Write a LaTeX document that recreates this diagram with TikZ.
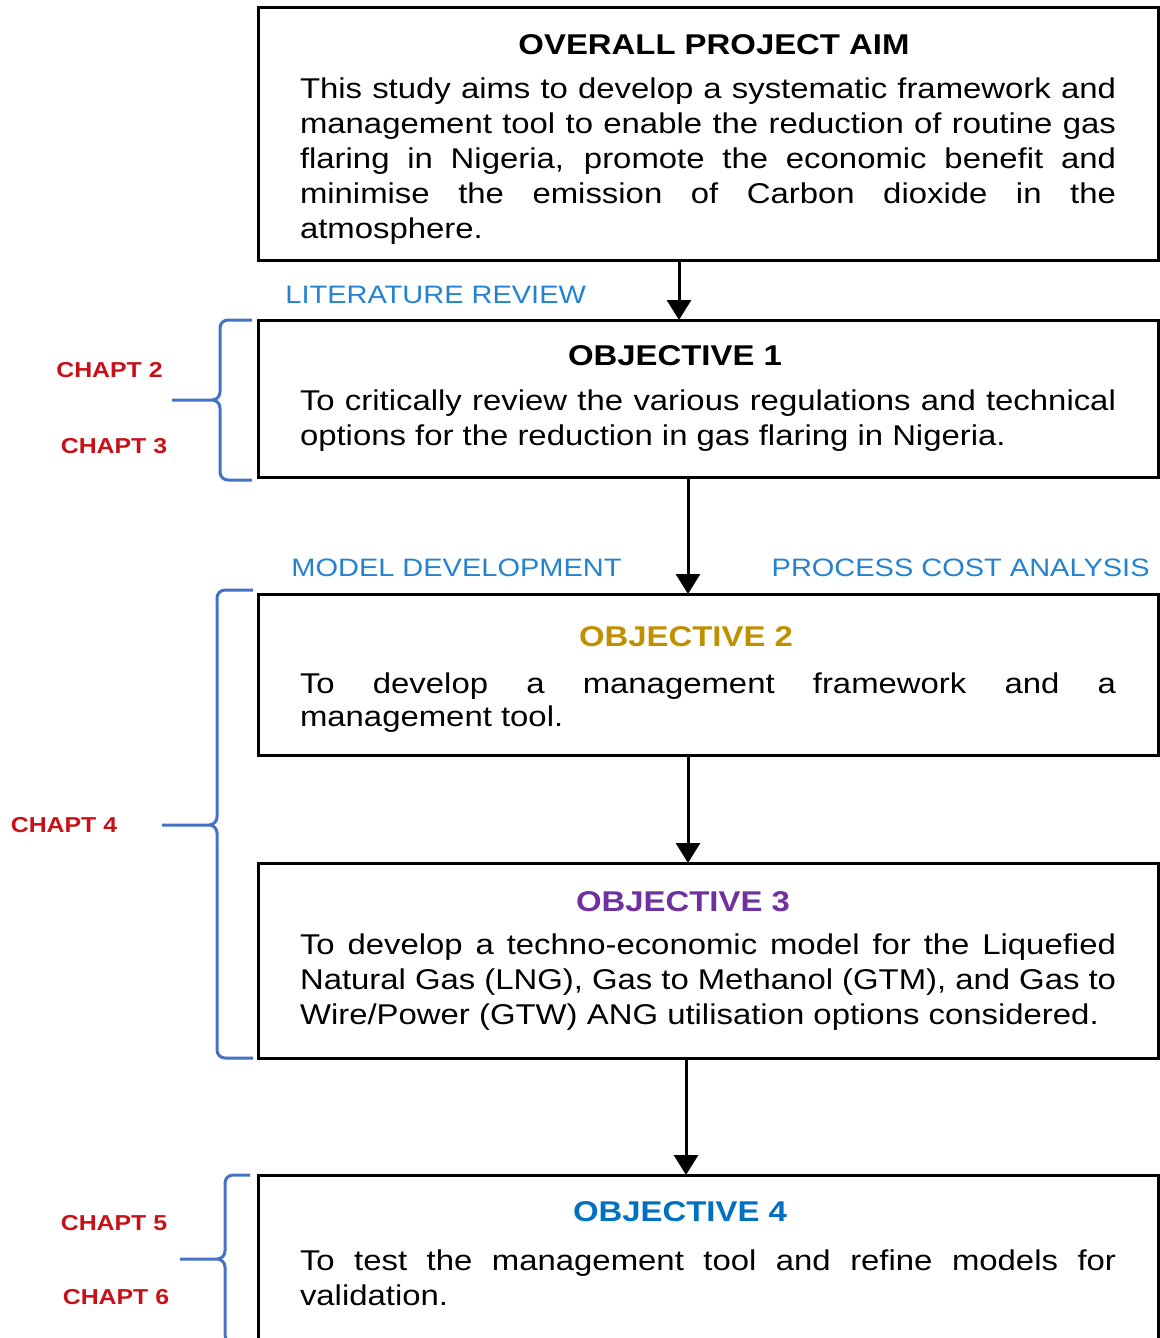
\documentclass[tikz,border=0pt]{standalone}
\usepackage{fontspec}
\setmainfont{Liberation Sans}[FakeStretch=1.15]
\usetikzlibrary{arrows.meta,positioning}
\definecolor{goldobj}{HTML}{BF9000}
\definecolor{purpleobj}{HTML}{7030A0}
\definecolor{blueobj}{HTML}{0070C0}
\definecolor{stageblue}{RGB}{36,130,208}
\definecolor{chaptred}{RGB}{200,16,24}
\definecolor{bracecol}{HTML}{4472C4}
\newcommand{\boxtitle}[4][5pt]{{\centering\bfseries\color{#2}\hspace*{#3}#4\par}\vspace{#1}}
\newcommand{\chbrace}[6]{\draw[chbr] (#5pt,-#1pt) -- (#4pt+4pt,-#1pt) to[out=180,in=90] (#4pt,-#1pt-4pt) -- (#4pt,-#2pt+4pt) to[out=-90,in=0] (#4pt-4pt,-#2pt) -- (#6pt,-#2pt) (#4pt-4pt,-#2pt) to[out=0,in=90] (#4pt,-#2pt-4pt) -- (#4pt,-#3pt+4pt) to[out=-90,in=180] (#4pt+4pt,-#3pt) -- (#5pt,-#3pt);}
\hyphenpenalty=10000
\exhyphenpenalty=10000
\begin{document}
\begin{tikzpicture}[box/.style={draw,line width=1.5pt,outer sep=0pt,text width=408pt,inner xsep=21pt,inner ysep=0pt,align=justify,font=\fontsize{14.3}{17.5}\selectfont}, stage/.style={text=stageblue,inner sep=0pt,font=\fontsize{12.6}{15}\selectfont}, chapt/.style={text=chaptred,inner sep=0pt,font=\bfseries\fontsize{10.8}{13}\selectfont}, arr/.style={-{Triangle[width=12pt,length=10pt]},line width=1.5pt}, chbr/.style={draw=bracecol,line width=1.5pt}]
\useasboundingbox (0,0) rectangle (580pt,-669pt);
\clip (0,0) rectangle (580pt,-669pt);
\node[box, minimum height=126pt, anchor=north west] (aim) at (129pt,-4pt) {\boxtitle[4.5pt]{black}{6pt}{\rule{0pt}{15.3pt}OVERALL PROJECT AIM}This study aims to develop a systematic framework and\linebreak management tool to enable the reduction of routine gas\linebreak flaring in Nigeria, promote the economic benefit and\linebreak minimise the emission of Carbon dioxide in the\linebreak atmosphere.};
\node[box, minimum height=78.5pt, below=30pt of aim] (obj1) {\boxtitle{black}{-33pt}{OBJECTIVE 1}To critically review the various regulations and technical\linebreak options for the reduction in gas flaring in Nigeria.};
\draw[arr] ([xshift=-14.5pt]aim.south) -- ([xshift=-14.5pt]obj1.north);
\node[box, minimum height=80.5pt, below=58.5pt of obj1, font=\fontsize{14.3}{16.5}\selectfont] (obj2) {\boxtitle[7pt]{goldobj}{-22pt}{\rule{0pt}{14.8pt}OBJECTIVE 2}To develop a management framework and a\linebreak management tool.};
\draw[arr] ([xshift=-10pt]obj1.south) -- ([xshift=-10pt]obj2.north);
\node[box, minimum height=97.5pt, below=54pt of obj2] (obj3) {\boxtitle[4pt]{purpleobj}{-25pt}{OBJECTIVE 3}To develop a techno-economic model for the Liquefied\linebreak Natural Gas (LNG), Gas to Methanol (GTM), and Gas to\linebreak Wire/Power (GTW) ANG utilisation options considered.};
\draw[arr] ([xshift=-10pt]obj2.south) -- ([xshift=-10pt]obj3.north);
\node[box, inner ysep=13.5pt, text depth=60pt, below=58.5pt of obj3] (obj4) {\boxtitle[7pt]{blueobj}{-28pt}{OBJECTIVE 4}To test the management tool and refine models for\linebreak validation.};
\draw[arr] ([xshift=-11pt]obj3.south) -- ([xshift=-11pt]obj4.north);
\node[stage, anchor=west] (litrev) at (142.5pt,-147.5pt) {LITERATURE REVIEW};
\node[stage, anchor=west] (moddev) at (145.5pt,-284pt) {MODEL DEVELOPMENT};
\node[stage, anchor=east] (costan) at (575pt,-284pt) {PROCESS COST ANALYSIS};
\chbrace{160}{200}{240}{110}{126}{86}
\chbrace{295}{412.5}{529}{108.5}{126.5}{81}
\chbrace{587.5}{629.5}{671.5}{112.5}{125}{90}
\node[chapt] (ch2) at (54.75pt,-185pt) {CHAPT 2};
\node[chapt] (ch3) at (57pt,-223pt) {CHAPT 3};
\node[chapt] (ch4) at (32pt,-412.5pt) {CHAPT 4};
\node[chapt] (ch5) at (57pt,-611.5pt) {CHAPT 5};
\node[chapt] (ch6) at (58pt,-648.5pt) {CHAPT 6};
\end{tikzpicture}
\end{document}
